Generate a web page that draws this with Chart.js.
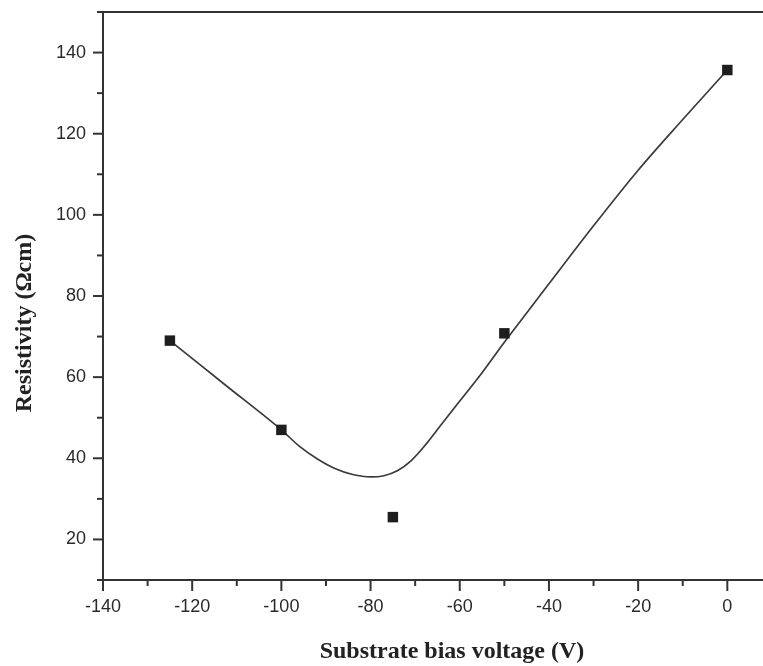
<!DOCTYPE html>
<html lang="en">
<head>
  <meta charset="UTF-8">
  <title>Resistivity vs substrate bias voltage</title>
  <script src="https://cdn.jsdelivr.net/npm/chart.js"></script>
  <style>
    html, body {
      margin: 0;
      padding: 0;
      overflow: hidden;
      background-color: #fff;
    }

    #wrap {
      position: relative;
      width: 763px;
      height: 666px;
    }

    canvas {
      display: block;
    }
  </style>
</head>

<body>
  <div id="wrap">
    <canvas id="grafico"></canvas>
  </div>

  <script>
    // measured points
    const biasVoltage = [-125, -100, -75, -50, 0];
    const resistivity = [69, 47, 25.5, 70.8, 135.7];

    // fitted curve
    const fitVoltage = [-125, -112.5, -100, -96, -92, -88, -84, -80, -77, -74, -71, -68, -64, -60, -55, -50, -45, -40, -30, -20, -10, 0];
    const fitResistivity = [69, 58, 47, 43, 39.9, 37.5, 36.0, 35.4, 35.7, 36.9, 39.3, 42.9, 48.5, 54.1, 61.1, 68.6, 75.8, 83.0, 97.3, 111, 123.5, 135.7];

    const xLabels = [-140, -120, -100, -80, -60, -40, -20, 0];
    const yLabels = [20, 40, 60, 80, 100, 120, 140];

    const corEixo = '#333';
    const fonteTicks = { family: "'Liberation Sans', Arial, sans-serif", size: 18 };

    function semPadding(scale) {
      scale.paddingTop = 0;
      scale.paddingBottom = 0;
      scale.paddingLeft = 0;
      scale.paddingRight = 0;
    }

    // outward tick marks (major every 20, minor every 10), top border and axis titles
    const marcasEixos = {
      id: 'marcasEixos',
      afterDraw(chart) {
        const ctx = chart.ctx;
        const area = chart.chartArea;
        const sx = chart.scales.x;
        const sy = chart.scales.y;
        ctx.save();
        ctx.strokeStyle = corEixo;
        ctx.lineWidth = 2;

        ctx.beginPath();
        ctx.moveTo(area.left - 5, area.top);
        ctx.lineTo(area.right, area.top);
        ctx.stroke();

        sx.ticks.forEach(t => {
          if (t.value % 10 !== 0) return;
          const px = sx.getPixelForValue(t.value);
          const len = t.value % 20 === 0 ? 11 : 6;
          ctx.beginPath();
          ctx.moveTo(px, area.bottom);
          ctx.lineTo(px, area.bottom + len);
          ctx.stroke();
        });

        sy.ticks.forEach(t => {
          if (t.value % 10 !== 0) return;
          const py = sy.getPixelForValue(t.value);
          const len = t.value % 20 === 0 ? 10 : 6;
          ctx.beginPath();
          ctx.moveTo(area.left, py);
          ctx.lineTo(area.left - len, py);
          ctx.stroke();
        });

        ctx.fillStyle = '#222';
        ctx.font = "bold 24px 'Liberation Serif', 'Times New Roman', serif";
        ctx.textAlign = 'center';
        ctx.textBaseline = 'middle';
        ctx.fillText('Substrate bias voltage (V)', 452, 652);

        ctx.translate(25, 323);
        ctx.rotate(-Math.PI / 2);
        ctx.fillText('Resistivity (\u03A9cm)', 0, 0);
        ctx.restore();
      }
    };

    const ctx = document.getElementById('grafico').getContext('2d');

    const grafico = new Chart(ctx, {
      type: 'scatter',
      data: {
        datasets: [
          {
            label: 'fit',
            data: fitVoltage.map((v, i) => ({ x: v, y: fitResistivity[i] })),
            showLine: true,
            borderColor: '#3a3a3a',
            borderWidth: 1.7,
            pointRadius: 0,
            cubicInterpolationMode: 'monotone',
            order: 2
          },
          {
            label: 'Resistivity',
            data: biasVoltage.map((v, i) => ({ x: v, y: resistivity[i] })),
            pointStyle: 'rect',
            pointRadius: 7.4,
            backgroundColor: '#1e1e1e',
            borderColor: '#1e1e1e',
            borderWidth: 0,
            order: 1
          }
        ]
      },
      options: {
        responsive: true,
        maintainAspectRatio: false,
        animation: false,
        layout: {
          autoPadding: false,
          padding: { top: 12, right: 0, bottom: 0, left: 0 }
        },
        plugins: {
          legend: { display: false },
          tooltip: { enabled: false }
        },
        scales: {
          x: {
            type: 'linear',
            min: -140,
            max: 8,
            afterBuildTicks(scale) {
              scale.ticks = scale.ticks.filter(t => t.value % 10 === 0);
            },
            afterFit(scale) {
              scale.height = 86;
              semPadding(scale);
            },
            grid: { display: false, drawTicks: false },
            border: { display: true, color: corEixo, width: 2 },
            ticks: {
              stepSize: 10,
              padding: 16,
              color: '#2a2a2a',
              font: fonteTicks,
              autoSkip: false,
              maxRotation: 0,
              callback: v => xLabels.includes(v) ? String(v) : ''
            }
          },
          y: {
            type: 'linear',
            min: 10,
            max: 150,
            afterBuildTicks(scale) {
              scale.ticks = scale.ticks.filter(t => t.value % 10 === 0);
            },
            afterFit(scale) {
              scale.width = 103;
              semPadding(scale);
            },
            grid: { display: false, drawTicks: false },
            border: { display: true, color: corEixo, width: 2 },
            ticks: {
              stepSize: 10,
              padding: 17,
              color: '#2a2a2a',
              font: fonteTicks,
              autoSkip: false,
              callback: v => yLabels.includes(v) ? String(v) : ''
            }
          }
        }
      },
      plugins: [marcasEixos]
    });
  </script>
</body>

</html>
